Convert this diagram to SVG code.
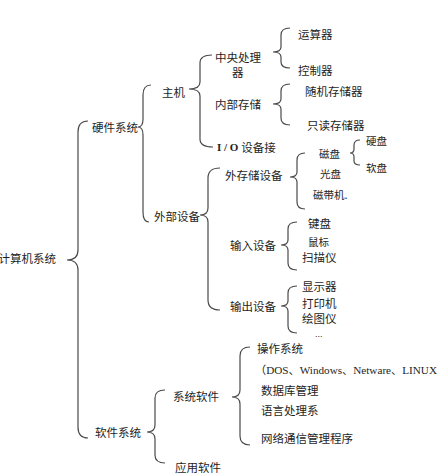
<svg xmlns="http://www.w3.org/2000/svg" width="444" height="476" viewBox="0 0 444 476">
<style>
.b{fill:none;stroke:#4a4a4a;stroke-width:1.2}
text{font-family:"Noto Sans CJK SC","Noto Sans",sans-serif;font-size:11.5px;fill:#1e1e1e;dominant-baseline:central}
.s{font-size:10.5px}
.r{font-family:"Liberation Serif","Noto Sans CJK SC",serif;font-size:11px}
</style>
<rect width="444" height="476" fill="#fff"/>
<g id="connectors">
<path class="b" d="M88,121 Q78,121 78,132 L78,250 Q78,260 67,260 Q78,260 78,270 L78,427 Q78,438 88,438"/>
<path class="b" d="M151,85 Q143,85 143,95 L143,119 Q143,127 138,127 Q143,127 143,135 L143,212 Q143,222 149,222"/>
<path class="b" d="M212,55 Q200,55 200,63 L200,82 Q200,89 189,89 Q200,89 200,96 L200,139 Q200,147 213,147"/>
<path class="b" d="M290,28 Q281,28 281,35 L281,47 Q281,52 273,52 Q281,52 281,57 L281,62 Q281,68 290,68"/>
<path class="b" d="M290,84 Q281,84 281,91 L281,99 Q281,104 273,104 Q281,104 281,109 L281,118 Q281,125 290,125"/>
<path class="b" d="M360,140 Q354,140 354,145 L354,149 Q354,153 350,153 Q354,153 354,157 L354,161 Q354,165 360,165"/>
<path class="b" d="M305,153 Q297,153 297,160 L297,172 Q297,177 290,177 Q297,177 297,182 L297,202 Q297,209 305,209"/>
<path class="b" d="M220,168 Q208,168 208,178 L208,208 Q208,215 200,215 Q208,215 208,222 L208,300 Q208,310 220,310"/>
<path class="b" d="M297,222 Q288,222 288,229 L288,240 Q288,245 281,245 Q288,245 288,250 L288,263 Q288,270 297,270"/>
<path class="b" d="M297,286 Q288,286 288,293 L288,301 Q288,306 281,306 Q288,306 288,311 L288,326 Q288,333 297,333"/>
<path class="b" d="M165,390 Q155,390 155,398 L155,425 Q155,432 147,432 Q155,432 155,439 L155,455 Q155,463 165,463"/>
<path class="b" d="M250,347 Q240,347 240,356 L240,390 Q240,397 232,397 Q240,397 240,404 L240,436 Q240,445 250,445"/>
</g>
<g id="n-computer"><text x="56" y="258" text-anchor="end">计算机系统</text></g>
<g id="n-hardware"><text x="92" y="127">硬件系统</text></g>
<g id="n-host"><text x="162" y="92">主机</text></g>
<g id="n-cpu"><text x="215" y="57">中央处理</text><text x="232" y="72">器</text></g>
<g id="n-alu"><text x="298" y="34">运算器</text></g>
<g id="n-ctrl"><text x="298" y="70">控制器</text></g>
<g id="n-mem"><text x="215" y="104">内部存储</text></g>
<g id="n-ram"><text x="305" y="91">随机存储器</text></g>
<g id="n-rom"><text x="307" y="125">只读存储器</text></g>
<g id="n-io"><text x="217" y="147"><tspan class="r" font-weight="bold">I / O </tspan>设备接</text></g>
<g id="n-ext"><text x="154" y="216">外部设备</text></g>
<g id="n-extstore"><text x="225" y="175">外存储设备</text></g>
<g id="n-disk"><text class="s" x="319" y="153">磁盘</text></g>
<g id="n-hdd"><text class="s" x="366" y="140">硬盘</text></g>
<g id="n-fdd"><text class="s" x="366" y="167">软盘</text></g>
<g id="n-cd"><text class="s" x="320" y="173">光盘</text></g>
<g id="n-tape"><text class="s" x="313" y="194">磁带机.</text></g>
<g id="n-input"><text x="230" y="245">输入设备</text></g>
<g id="n-kbd"><text x="308" y="223">键盘</text></g>
<g id="n-mouse"><text class="s" x="308" y="241">鼠标</text></g>
<g id="n-scan"><text x="302" y="257">扫描仪</text></g>
<g id="n-output"><text x="230" y="306">输出设备</text></g>
<g id="n-disp"><text x="302" y="286">显示器</text></g>
<g id="n-print"><text x="302" y="303">打印机</text></g>
<g id="n-plot"><text x="302" y="318">绘图仪</text></g>
<g id="n-more"><text x="315" y="337" style="font-family:'Liberation Sans',sans-serif;font-size:9px;dominant-baseline:auto">...</text></g>
<g id="n-software"><text x="95" y="432">软件系统</text></g>
<g id="n-syssw"><text x="173" y="396">系统软件</text></g>
<g id="n-appsw"><text x="175" y="467">应用软件</text></g>
<g id="n-os"><text x="257" y="348">操作系统</text></g>
<g id="n-oslist"><text class="r" x="255" y="370" textLength="182" lengthAdjust="spacingAndGlyphs">（DOS、Windows、Netware、LINUX</text></g>
<g id="n-db"><text x="261" y="390">数据库管理</text></g>
<g id="n-lang"><text x="261" y="410">语言处理系</text></g>
<g id="n-net"><text x="261" y="438">网络通信管理程序</text></g>
</svg>
